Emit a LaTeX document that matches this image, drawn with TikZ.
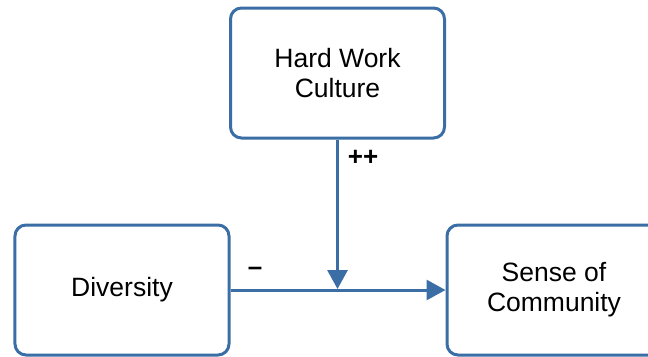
\documentclass[tikz,border=0pt]{standalone}
\usepackage{fontspec}
\setmainfont{Liberation Sans}
\usetikzlibrary{arrows.meta}
\definecolor{edgeblue}{HTML}{3B6EA5}
\tikzset{
  factor/.style={draw=edgeblue, line width=3bp, rounded corners=11bp, fill=white,
    minimum width=214bp, minimum height=130bp, align=center, inner sep=0pt,
    font=\fontsize{26.5bp}{30bp}\selectfont},
  link/.style={draw=edgeblue, line width=3bp,
    -{Triangle[length=19bp,width=20bp]}, fill=edgeblue},
  sign/.style={font=\fontsize{26bp}{28bp}\selectfont\bfseries, inner sep=0pt}
}
\begin{document}
\begin{tikzpicture}[x=1bp,y=-1bp]
  \useasboundingbox (0,0) rectangle (648,356);
  \node[factor] (hw) at (337.5,73) {Hard Work\\Culture};
  \node[factor] (dv) at (122,290) {Diversity};
  \node[factor] (sc) at (554,290) {Sense of\\Community};
  \coordinate (join) at (hw.south |- dv.east);
  \draw[link] (dv.east) -- (sc.west);
  \draw[link, shorten >=1bp] (hw.south) -- (join);
  \node[sign] (pp) at (363,158) {++};
  \node[sign] (mn) at (255,271) {–};
\end{tikzpicture}
\end{document}
